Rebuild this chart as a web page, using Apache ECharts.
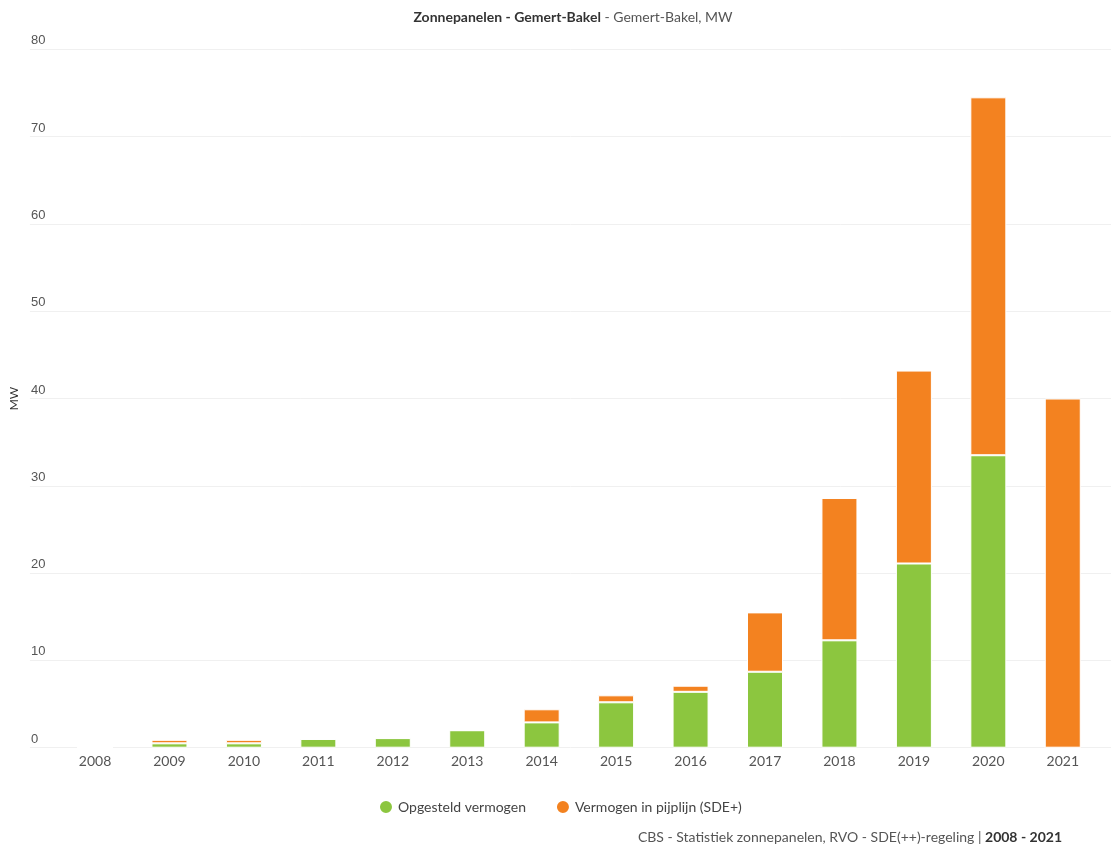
<!DOCTYPE html>
<html>
<head>
<meta charset="utf-8">
<script src="https://cdn.jsdelivr.net/npm/echarts@6/dist/echarts.min.js"></script>
<style>
html,body{margin:0;padding:0;background:#fff;}
#chart{width:1111px;height:845px;}
</style>
</head>
<body>
<div id="chart"></div>
<script>
var years = ['2008','2009','2010','2011','2012','2013','2014','2015','2016','2017','2018','2019','2020','2021'];
var opgesteld = [0, 0.5, 0.5, 1.0, 1.1, 2.0, 2.9, 5.2, 6.4, 8.7, 12.3, 21.1, 33.5, 0];
var pijplijn = [0, 0.4, 0.4, 0, 0, 0, 1.5, 0.8, 0.7, 6.8, 16.3, 22.1, 41.0, 40.0];
var yTicks = [0, 10, 20, 30, 40, 50, 60, 70, 80];

var FONT = 'Lato, "Noto Sans", sans-serif';
var chart = echarts.init(document.getElementById('chart'), null, {renderer: 'canvas'});
chart.setOption({
  animation: false,
  backgroundColor: '#ffffff',
  textStyle: {fontFamily: FONT},
  title: {
    left: 568, top: 5, textAlign: 'center',
    text: '{b|Zonnepanelen - Gemert-Bakel}{n| - Gemert-Bakel, MW}',
    textStyle: {
      fontWeight: 'normal',
      rich: {
        b: {fontFamily: FONT, fontWeight: 'bold', fontSize: 14, color: '#333333'},
        n: {fontFamily: FONT, fontWeight: 'normal', fontSize: 14, color: '#555555'}
      }
    }
  },
  legend: {
    left: 373, top: 794,
    icon: 'circle', itemWidth: 14, itemHeight: 14, itemGap: 29,
    textStyle: {fontFamily: FONT, fontSize: 14, color: '#444444'},
    data: ['Opgesteld vermogen', 'Vermogen in pijplijn (SDE+)']
  },
  grid: [
    {left: 57.8, right: 11, top: 49.3, bottom: 97.3},
    {left: 27, right: 0, top: 49.3, bottom: 97.3}
  ],
  xAxis: [
    {
      type: 'category', gridIndex: 0, data: years,
      axisLine: {show: false}, axisTick: {show: false},
      axisLabel: {color: '#555555', fontSize: 14, fontFamily: FONT, margin: 7}
    },
    {type: 'value', gridIndex: 1, min: 0, max: 1, show: false}
  ],
  yAxis: [
    {type: 'value', gridIndex: 0, min: 0, max: 80, interval: 10, show: false},
    {
      type: 'value', gridIndex: 1, min: yTicks[0], max: yTicks[yTicks.length - 1], interval: 10,
      name: 'MW', nameLocation: 'middle', nameGap: 8, nameRotate: 90,
      nameTextStyle: {color: '#333333', fontSize: 12, fontFamily: FONT},
      axisLine: {show: false}, axisTick: {show: false},
      splitLine: {lineStyle: {color: '#f0f0f0', width: 1}},
      axisLabel: {
        inside: true, align: 'left', verticalAlign: 'bottom', margin: 1,
        color: '#555555', fontSize: 13, fontFamily: '"Liberation Sans", Arial, sans-serif',
        padding: [0, 0, 2, 0]
      }
    }
  ],
  series: [
    {
      name: 'Opgesteld vermogen', type: 'bar', stack: 'a',
      xAxisIndex: 0, yAxisIndex: 0, barWidth: 36,
      itemStyle: {color: '#8cc63f', borderColor: '#ffffff', borderWidth: 1},
      data: opgesteld
    },
    {
      name: 'Vermogen in pijplijn (SDE+)', type: 'bar', stack: 'a',
      xAxisIndex: 0, yAxisIndex: 0, barWidth: 36,
      itemStyle: {color: '#f38220', borderColor: '#ffffff', borderWidth: 1},
      data: pijplijn
    }
  ],
  graphic: [
    {
      type: 'text', x: 1062, y: 837,
      style: {
        text: '{n|CBS - Statistiek zonnepanelen, RVO - SDE(++)-regeling | }{b|2008 - 2021}',
        align: 'right', verticalAlign: 'middle',
        rich: {
          n: {fontFamily: FONT, fontSize: 14, fill: '#555555', color: '#555555'},
          b: {fontFamily: FONT, fontSize: 14, fontWeight: 'bold', fill: '#333333', color: '#333333'}
        }
      }
    }
  ]
});
</script>
</body>
</html>
